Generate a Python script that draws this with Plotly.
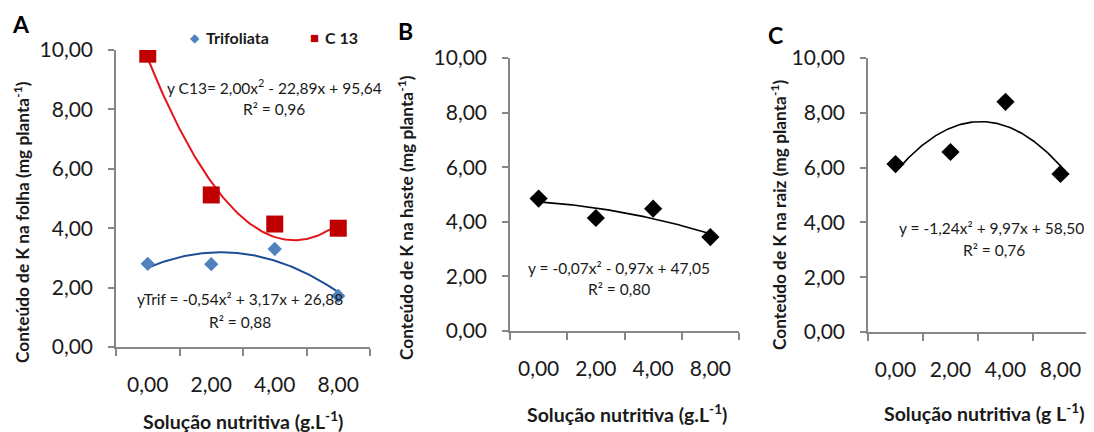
import numpy as np
import plotly.graph_objects as go

# ---- data ----
categories = ["0,00", "2,00", "4,00", "8,00"]
folha_c13 = [9.86, 5.12, 4.14, 4.00]
folha_trif = [2.80, 2.79, 3.30, 1.72]
haste = [4.85, 4.14, 4.48, 3.44]
raiz = [6.13, 6.57, 8.40, 5.77]

eq_c13 = ["y C13= 2,00x<sup>2</sup> - 22,89x + 95,64", "R² = 0,96"]
eq_trif = ["yTrif = -0,54x² + 3,17x + 26,88", "R² = 0,88"]
eq_haste = ["y = -0,07x² - 0,97x + 47,05", "R² = 0,80"]
eq_raiz = ["y = -1,24x² + 9,97x + 58,50", "R² = 0,76"]

ytitles = ["Conteúdo de K na folha (mg planta<sup>-1</sup>)",
           "Conteúdo de K na haste (mg planta<sup>-1</sup>)",
           "Conteúdo de K na raiz (mg planta<sup>-1</sup>)"]
xtitles = ["Solução nutritiva (g.L<sup>-1</sup>)",
           "Solução nutritiva (g.L<sup>-1</sup>)",
           "Solução nutritiva (g L<sup>-1</sup>)"]
letters = ["A", "B", "C"]

W, H = 1094, 432
OFF = 8  # page body margin compensation
FONT = "Lato"
AXC = "#868686"
TXT = "#1a1a1a"

xi = np.arange(len(categories))
xs = np.linspace(0, len(categories) - 1, 120)


def trend(vals):
    c = np.polyfit(xi, vals, 2)
    return np.polyval(c, xs)


def px(x):
    return (x - OFF) / W


def py(y):
    return 1 - (y - OFF) / H


fig = go.Figure()

# panel geometry (pixels): left, right, top, bottom
panels = [(116, 370, 50, 347), (510, 739, 58, 331), (868, 1088, 58, 332)]

# Panel A
fig.add_trace(go.Scatter(x=xs, y=trend(folha_c13), mode="lines",
                         line=dict(color="#E3171B", width=2), showlegend=False,
                         xaxis="x", yaxis="y", hoverinfo="skip"))
fig.add_trace(go.Scatter(x=xs, y=trend(folha_trif), mode="lines",
                         line=dict(color="#1F4E96", width=2), showlegend=False,
                         xaxis="x", yaxis="y", hoverinfo="skip"))
fig.add_trace(go.Scatter(x=xi, y=folha_trif, mode="markers", name="Trifoliata",
                         marker=dict(symbol="diamond", size=11, color="#4F81BD"),
                         showlegend=False, xaxis="x", yaxis="y"))
fig.add_trace(go.Scatter(x=xi, y=folha_c13, mode="markers", name="C 13",
                         marker=dict(symbol="square", size=17, color="#C00000"),
                         showlegend=False, xaxis="x", yaxis="y"))
# Panel B
fig.add_trace(go.Scatter(x=xs, y=trend(haste), mode="lines",
                         line=dict(color="black", width=1.6), showlegend=False,
                         xaxis="x2", yaxis="y2", hoverinfo="skip"))
fig.add_trace(go.Scatter(x=xi, y=haste, mode="markers",
                         marker=dict(symbol="diamond", size=14, color="black"),
                         showlegend=False, xaxis="x2", yaxis="y2"))
# Panel C
fig.add_trace(go.Scatter(x=xs, y=trend(raiz), mode="lines",
                         line=dict(color="black", width=1.6), showlegend=False,
                         xaxis="x3", yaxis="y3", hoverinfo="skip"))
fig.add_trace(go.Scatter(x=xi, y=raiz, mode="markers",
                         marker=dict(symbol="diamond", size=14, color="black"),
                         showlegend=False, xaxis="x3", yaxis="y3"))

bounds = [i - 0.5 for i in range(len(categories) + 1)]
layout = dict(width=W, height=H, margin=dict(l=0, r=0, t=0, b=0, pad=0, autoexpand=False),
              paper_bgcolor="white", plot_bgcolor="white", showlegend=False,
              separators=",.", font=dict(family=FONT, color=TXT))

for i, (l, r, t, b) in enumerate(panels):
    sfx = "" if i == 0 else str(i + 1)
    layout["xaxis" + sfx] = dict(
        domain=[px(l), px(r)], anchor="y" + sfx, range=[-0.5, len(categories) - 0.5],
        tickvals=list(xi), ticktext=categories, ticks="", showgrid=False, zeroline=False,
        showline=True, linecolor=AXC, linewidth=1.5, automargin=False,
        tickfont=dict(size=21, family=FONT, color=TXT), ticklabelstandoff=18,
        minor=dict(tickvals=bounds, ticks="outside", ticklen=7, tickcolor=AXC, tickwidth=1.5,
                   showgrid=False),
        fixedrange=True)
    layout["yaxis" + sfx] = dict(
        domain=[py(b), py(t)], anchor="x" + sfx, range=[0, 10], tickvals=[0, 2, 4, 6, 8, 10],
        tickformat=".2f", ticks="outside", ticklen=6, tickcolor=AXC, tickwidth=1.5,
        showline=True, linecolor=AXC, linewidth=1.5, showgrid=False, zeroline=False,
        automargin=False,
        tickfont=dict(size=21, family=FONT, color=TXT), ticklabelstandoff=11,
        fixedrange=True)

ann = []


def text(x, y, s, size=15, bold=False, angle=0, color=TXT, xanchor="center"):
    ann.append(dict(x=px(x), y=py(y), xref="paper", yref="paper", text=("<b>%s</b>" % s) if bold else s,
                    showarrow=False, xanchor=xanchor, yanchor="middle", textangle=angle,
                    font=dict(family=FONT, size=size, color=color)))


# letters
for (x, y), s in zip([(21, 24), (405, 31), (775, 35)], letters):
    text(x, y, s, size=23, bold=True, color="black")
# y titles
for (x, y), s in zip([(21, 222), (405, 218), (778, 215)], ytitles):
    text(x, y, s, size=17.3, bold=True, angle=-90)
# x titles
for (x, y), s in zip([(243, 420), (627, 413), (984, 412)], xtitles):
    text(x, y, s, size=19.5, bold=True)
# equations
text(274, 87, eq_c13[0], size=15.5); text(274, 109, eq_c13[1], size=15.5)
text(240, 299, eq_trif[0], size=15.5); text(240, 322, eq_trif[1], size=15.5)
text(619, 268, eq_haste[0], size=15.5); text(619, 289, eq_haste[1], size=15.5)
text(992, 228, eq_raiz[0], size=15.5); text(994, 250, eq_raiz[1], size=15.5)
# legend
text(195, 37, "◆", size=12, color="#4F81BD")
text(204, 37, "Trifoliata", size=16, bold=True, xanchor="left")
text(314, 37, "■", size=15, color="#C00000")
text(323, 37, "C 13", size=16, bold=True, xanchor="left")

layout["annotations"] = ann
fig.update_layout(**layout)
fig.write_html("out.html")
